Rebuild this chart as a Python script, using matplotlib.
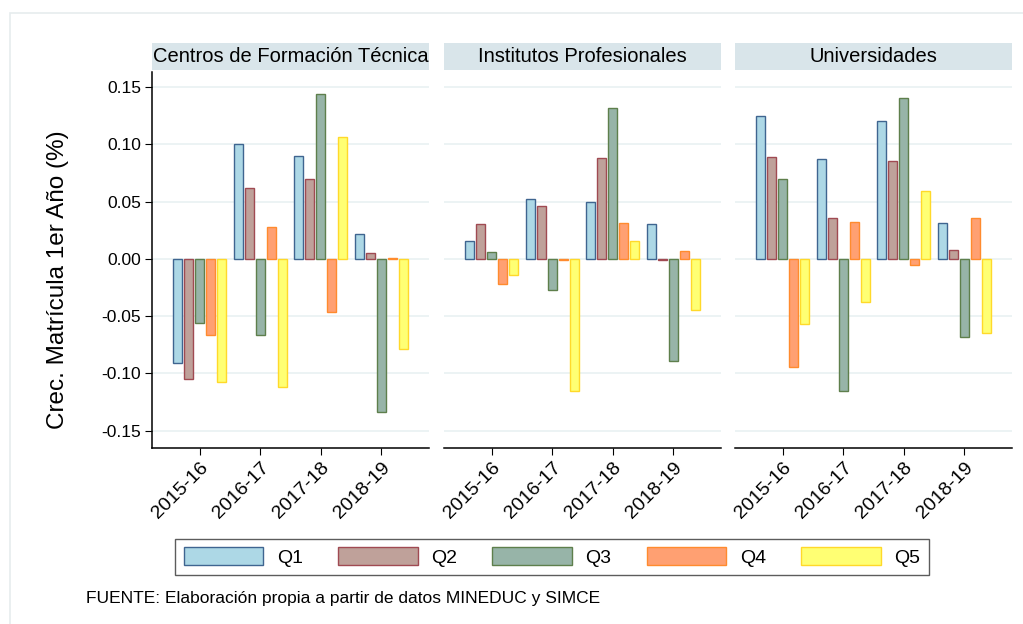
import numpy as np
import matplotlib
matplotlib.use("Agg")
import matplotlib.pyplot as plt
from matplotlib.patches import Rectangle, Patch

plt.rcParams["font.family"] = ["Liberation Sans", "DejaVu Sans"]

years = ["2015-16", "2016-17", "2017-18", "2018-19"]
panels = ["Centros de Formación Técnica", "Institutos Profesionales", "Universidades"]
quintiles = ["Q1", "Q2", "Q3", "Q4", "Q5"]

# growth by quintile, one list per year (Q1..Q5)
cft = [[-0.091, -0.105, -0.056, -0.066, -0.107],
       [0.100, 0.062, -0.066, 0.028, -0.112],
       [0.090, 0.070, 0.144, -0.046, 0.106],
       [0.022, 0.005, -0.134, 0.001, -0.079]]
ip = [[0.016, 0.030, 0.006, -0.022, -0.014],
      [0.052, 0.046, -0.027, -0.001, -0.115],
      [0.050, 0.088, 0.132, 0.031, 0.016],
      [0.030, -0.001, -0.089, 0.007, -0.045]]
univ = [[0.125, 0.089, 0.070, -0.094, -0.057],
        [0.087, 0.036, -0.115, 0.032, -0.038],
        [0.120, 0.085, 0.140, -0.005, 0.059],
        [0.031, 0.008, -0.068, 0.036, -0.065]]

fills = ["#add8e6", "#bfa19a", "#97b4a8", "#ffa072", "#ffff73"]
edges = ["#3f6590", "#a04a52", "#5e7f4c", "#ff8b2e", "#ffd92a"]
ticks = [-0.15, -0.10, -0.05, 0.00, 0.05, 0.10, 0.15]

W, H = 1023, 624
fig = plt.figure(figsize=(W / 100, H / 100), dpi=100)
fig.patches.append(Rectangle((10 / W, -0.1), 1.1, 1 - 13 / H + 0.1,
                             transform=fig.transFigure, fill=False,
                             edgecolor="#e6ecee", lw=1.2))

lefts = [152, 444, 735]
pw = 277
top, bot = 72, 448
x = np.arange(1, 5)
step, bw = 0.182, 0.155

for k, (name, data) in enumerate(zip(panels, [cft, ip, univ])):
    ax = fig.add_axes([lefts[k] / W, 1 - bot / H, pw / W, (bot - top) / H])
    vals = np.array(data)
    for q in range(5):
        ax.bar(x + (q - 2) * step, vals[:, q], width=bw, color=fills[q],
               edgecolor=edges[q], linewidth=1.0, zorder=3)
    ax.set_xlim(0.21, 4.79)
    ax.set_ylim(-0.165, 0.163)
    ax.set_yticks(ticks)
    ax.grid(axis="y", color="#eaf2f3", lw=1.3, zorder=0)
    ax.set_xticks(x)
    ax.set_xticklabels(years, rotation=45, ha="right", rotation_mode="anchor", fontsize=14)
    ax.tick_params(axis="x", length=5, width=0.8, pad=3)
    for s in ["top", "right"]:
        ax.spines[s].set_visible(False)
    ax.spines["bottom"].set_linewidth(1.1)
    if k == 0:
        ax.set_yticklabels(["%.2f" % t for t in ticks], fontsize=12.5)
        ax.tick_params(axis="y", length=5, width=0.8, pad=3)
        ax.spines["left"].set_linewidth(1.1)
    else:
        ax.spines["left"].set_visible(False)
        ax.tick_params(axis="y", length=0, labelleft=False)
    # strip title
    sax = fig.add_axes([lefts[k] / W, 1 - 70 / H, pw / W, 27 / H])
    sax.set_facecolor("#d9e5ea")
    sax.set_xticks([]); sax.set_yticks([])
    for s in sax.spines.values():
        s.set_visible(False)
    sax.text(0.5, 0.5, name, ha="center", va="center", fontsize=14.5, transform=sax.transAxes)

fig.text(58 / W, 1 - 280 / H, "Crec. Matrícula 1er Año (%)", rotation=90,
         ha="center", va="center", fontsize=17.5)

handles = [Patch(facecolor=fills[q], edgecolor=edges[q], lw=1.0) for q in range(5)]
leg = fig.legend(handles, quintiles, loc="center", bbox_to_anchor=(552 / W, 1 - 557 / H),
                 ncol=5, fontsize=14, frameon=True, fancybox=False, handlelength=4.1,
                 handleheight=1.0, columnspacing=1.8, handletextpad=0.7, borderpad=0.45)
leg.get_frame().set_edgecolor("#333333")
leg.get_frame().set_linewidth(1.0)

fig.text(86 / W, 1 - 598 / H, "FUENTE: Elaboración propia a partir de datos MINEDUC y SIMCE",
         fontsize=12.5, va="center", ha="left")

fig.savefig("out.png", dpi=100, facecolor="white")
